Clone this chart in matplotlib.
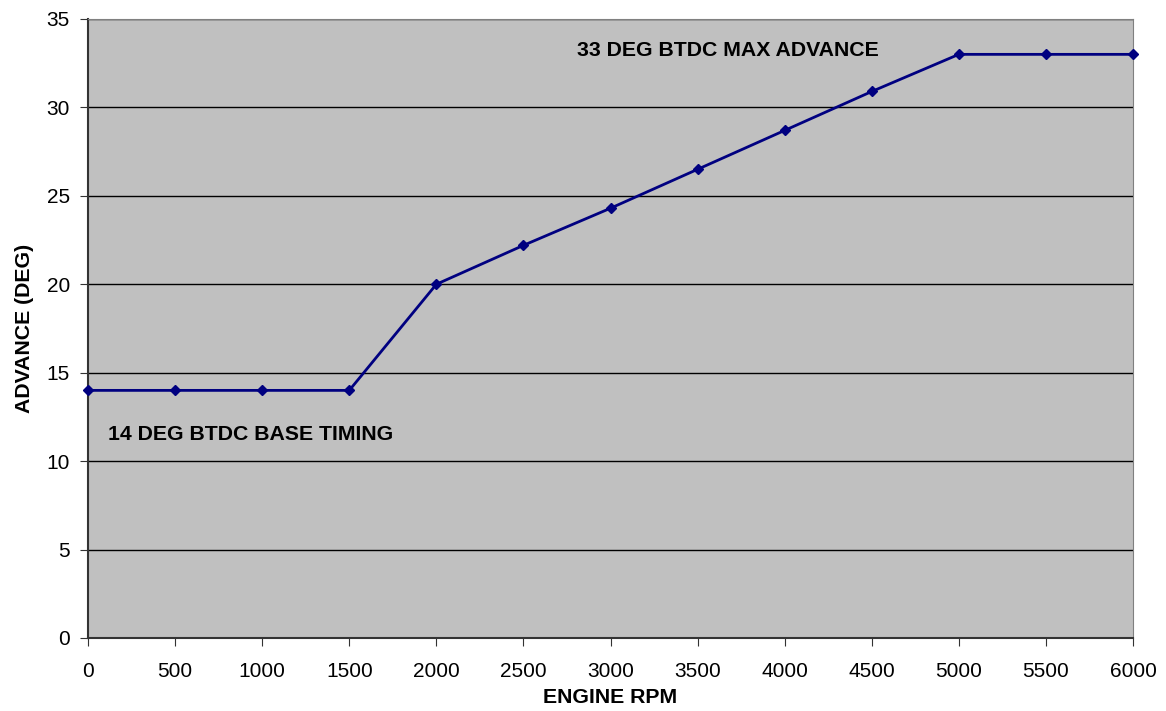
import matplotlib.pyplot as plt

plt.rcParams['font.family'] = ['Liberation Sans', 'DejaVu Sans']

rpm = [0, 500, 1000, 1500, 2000, 2500, 3000, 3500, 4000, 4500, 5000, 5500, 6000]
advance = [14, 14, 14, 14, 20, 22.2, 24.3, 26.5, 28.7, 30.9, 33, 33, 33]

fig = plt.figure(figsize=(11.66, 7.11), dpi=100)
ax = fig.add_axes([0.0755, 0.1027, 0.8962, 0.8706])
ax.set_facecolor('#C0C0C0')

ax.plot(rpm, advance, color='#000080', linewidth=2, marker='D', markersize=5, zorder=3, clip_on=False)

ax.set_xlim(0, 6000)
ax.set_ylim(0, 35)
ax.set_xticks(range(0, 6001, 500))
ax.set_yticks(range(0, 36, 5))
ax.yaxis.grid(True, color='black', linewidth=1)
ax.set_axisbelow(True)

for side in ['top', 'right']:
    ax.spines[side].set_color('#808080')
for side in ['left', 'bottom']:
    ax.spines[side].set_color('#333333')
    ax.spines[side].set_linewidth(1.5)

ax.tick_params(axis='both', labelsize=15, length=6, color='#333333', direction='out')
ax.tick_params(axis='x', pad=11)
ax.tick_params(axis='y', pad=7)

ax.set_xlabel('ENGINE RPM', fontsize=15.3, fontweight='bold', labelpad=5)
ax.set_ylabel('ADVANCE (DEG)', fontsize=15.3, fontweight='bold', labelpad=9)

ax.text(115, 11.5, '14 DEG BTDC BASE TIMING', fontsize=15.3, fontweight='bold', va='center')
ax.text(2810, 33.2, '33 DEG BTDC MAX ADVANCE', fontsize=15.3, fontweight='bold', va='center')

fig.savefig('out.png', dpi=100)
